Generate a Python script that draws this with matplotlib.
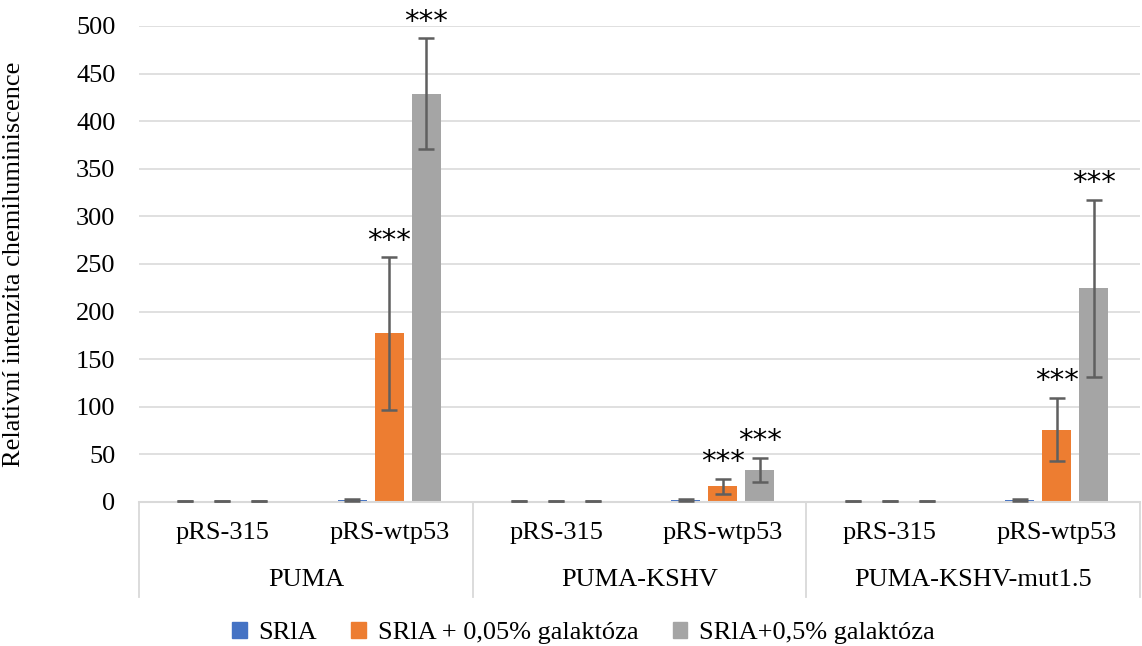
import matplotlib.pyplot as plt
from matplotlib.patches import Patch

# data
groups = ["PUMA", "PUMA-KSHV", "PUMA-KSHV-mut1.5"]
plasmids = ["pRS-315", "pRS-wtp53"]
series = ["SRlA", "SRlA + 0,05% galaktóza", "SRlA+0,5% galaktóza"]
colors = ["#4472C4", "#ED7D31", "#A5A5A5"]

# values per subcategory (PUMA/pRS-315, PUMA/pRS-wtp53, KSHV/..., mut1.5/...)
srla = [1.0, 2.0, 1.0, 2.0, 1.0, 2.0]
srla_005 = [1.0, 177.0, 1.0, 16.5, 1.0, 76.0]
srla_05 = [1.0, 429.0, 1.0, 34.0, 1.0, 224.5]
err_srla = [0.4, 0.8, 0.4, 0.8, 0.4, 0.8]
err_005 = [0.4, 80.0, 0.4, 8.0, 0.4, 33.0]
err_05 = [0.4, 58.0, 0.4, 12.5, 0.4, 93.0]
# significance marks: (subcategory index, series index)
stars = [(1, 1), (1, 2), (3, 1), (3, 2), (5, 1), (5, 2)]

values = [srla, srla_005, srla_05]
errors = [err_srla, err_005, err_05]

plt.rcParams['font.family'] = ['Liberation Serif', 'DejaVu Serif']
fs = 19

fig = plt.figure(figsize=(11.42, 6.46), dpi=100)
ax = fig.add_axes([139 / 1142, 1 - 502 / 646, 1001 / 1142, 476 / 646])

bar_w = 0.174
step = 0.222
n_sub = len(groups) * len(plasmids)
centers = [i + 0.5 for i in range(n_sub)]

for s in range(len(series)):
    xs = [c + (s - 1) * step for c in centers]
    ax.bar(xs, values[s], width=bar_w, color=colors[s], zorder=2)
    ax.errorbar(xs, values[s], yerr=errors[s], fmt='none', ecolor='#5F5F5F',
                elinewidth=1.8, capsize=5.5, capthick=1.8, zorder=3)

for i, s in stars:
    x = centers[i] + (s - 1) * step
    top = values[s][i] + errors[s][i]
    ax.annotate("***", (x, top), xytext=(0, 2), textcoords='offset points',
                ha='center', va='bottom', fontsize=21, family='DejaVu Sans')

ax.set_xlim(0, n_sub)
ax.set_ylim(0, 500)
ax.set_yticks(range(0, 501, 50))
ax.tick_params(axis='y', length=0, pad=17, labelsize=fs)
ax.set_xticks([])
ax.grid(axis='y', color='#DDDDDD', linewidth=1.3, zorder=0)
ax.set_axisbelow(True)
for side in ['top', 'right', 'left']:
    ax.spines[side].set_visible(False)
ax.spines['bottom'].set_color('#D9D9D9')
ax.spines['bottom'].set_linewidth(1.5)

ax.set_ylabel("Relativní intenzita chemiluminiscence", fontsize=fs)
ax.yaxis.set_label_coords(-(139 - 25) / 1001, 0.5)

# hierarchical category axis
tr = ax.get_xaxis_transform()
for i, c in enumerate(centers):
    ax.text(c, -0.065, plasmids[i % 2], transform=tr, ha='center', va='center',
            fontsize=fs)
for g, name in enumerate(groups):
    ax.text(2 * g + 1, -0.164, name, transform=tr, ha='center', va='center',
            fontsize=fs)
for b in range(len(groups) + 1):
    ax.plot([2 * b, 2 * b], [0, -0.2], transform=tr, color='#D9D9D9',
            linewidth=1.3, clip_on=False)

handles = [Patch(color=c, label=l) for c, l in zip(colors, series)]
fig.legend(handles=handles, loc='center', bbox_to_anchor=(0.511, 1 - 633 / 646),
           ncol=3, frameon=False, fontsize=fs, handlelength=0.55,
           handleheight=0.55, handletextpad=0.45, columnspacing=1.3)

fig.savefig("out.png", dpi=100)
